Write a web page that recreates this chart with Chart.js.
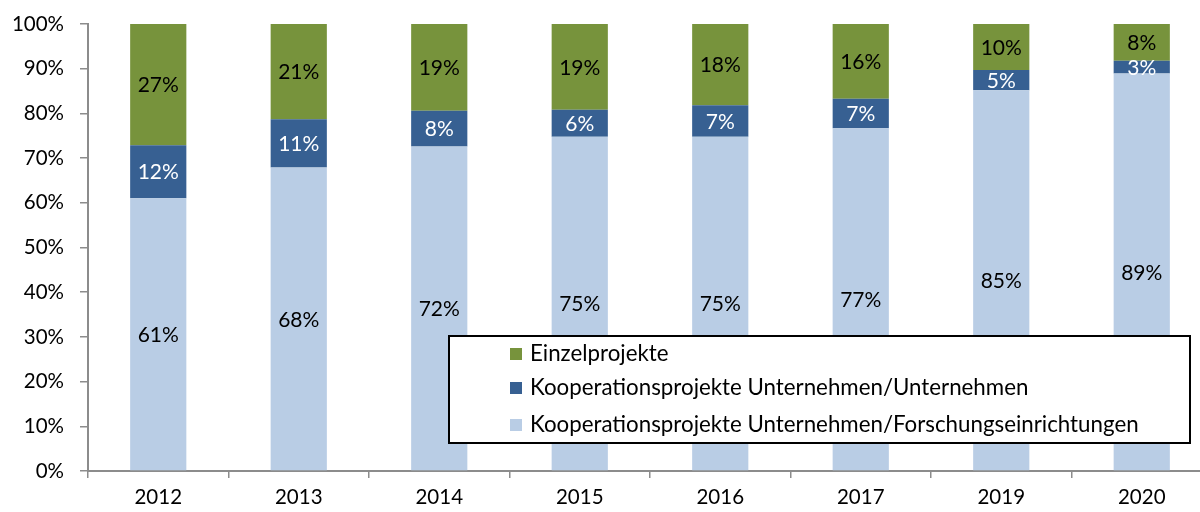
<!DOCTYPE html>
<html>
<head>
<meta charset="utf-8">
<script src="https://cdn.jsdelivr.net/npm/chart.js@4/dist/chart.umd.min.js"></script>
<style>
  html, body { margin: 0; padding: 0; background: #fff; overflow: hidden; }
  #wrap { position: relative; width: 1212px; height: 512px; }
</style>
</head>
<body>
<div id="wrap"><canvas id="c" width="1212" height="512"></canvas></div>
<script>
const categories = ['2012', '2013', '2014', '2015', '2016', '2017', '2019', '2020'];
const forschung = [61.0, 67.9, 72.6, 74.8, 74.8, 76.7, 85.2, 88.9];
const unternehmen = [11.9, 10.8, 8.0, 6.0, 7.0, 6.6, 4.5, 2.9];
const einzel = [27.1, 21.3, 19.4, 19.2, 18.2, 16.7, 10.3, 8.2];
const labelsForschung = ['61%', '68%', '72%', '75%', '75%', '77%', '85%', '89%'];
const labelsUnternehmen = ['12%', '11%', '8%', '6%', '7%', '7%', '5%', '3%'];
const labelsEinzel = ['27%', '21%', '19%', '19%', '18%', '16%', '10%', '8%'];
const yTicks = [0, 10, 20, 30, 40, 50, 60, 70, 80, 90, 100];

const FONT = 'Lato, "Open Sans", sans-serif';
const AXIS = '#8c8c8c';

const valueLabels = {
  id: 'valueLabels',
  afterDatasetsDraw(chart) {
    const ctx = chart.ctx;
    ctx.save();
    ctx.font = '21px ' + FONT;
    ctx.textAlign = 'center';
    ctx.textBaseline = 'middle';
    chart.data.datasets.forEach((ds, di) => {
      const meta = chart.getDatasetMeta(di);
      meta.data.forEach((bar, i) => {
        const top = Math.min(bar.y, bar.base), bot = Math.max(bar.y, bar.base);
        ctx.fillStyle = ds.labelColor;
        ctx.fillText(ds.valueLabels[i], bar.x, (top + bot) / 2 + 1);
      });
    });
    ctx.restore();
  }
};

const boxLegend = {
  id: 'boxLegend',
  afterDraw(chart) {
    const ctx = chart.ctx;
    ctx.save();
    const x0 = 449, y0 = 336, w = 741, h = 107;
    ctx.fillStyle = '#ffffff';
    ctx.fillRect(x0, y0, w, h);
    ctx.strokeStyle = '#000000';
    ctx.lineWidth = 2;
    ctx.strokeRect(x0, y0, w, h);
    ctx.font = '22.3px ' + FONT;
    ctx.textBaseline = 'middle';
    ctx.textAlign = 'left';
    const order = [2, 1, 0];
    const rows = [354, 388, 425];
    order.forEach((di, k) => {
      const ds = chart.data.datasets[di];
      ctx.fillStyle = ds.backgroundColor;
      ctx.fillRect(510, rows[k] - 6, 12, 12);
      ctx.fillStyle = '#000';
      ctx.fillText(ds.label, 530, rows[k]);
    });
    ctx.restore();
  }
};

new Chart(document.getElementById('c'), {
  type: 'bar',
  data: {
    labels: categories,
    datasets: [
      { label: 'Kooperationsprojekte Unternehmen/Forschungseinrichtungen', data: forschung, backgroundColor: '#B9CDE5', valueLabels: labelsForschung, labelColor: '#000' },
      { label: 'Kooperationsprojekte Unternehmen/Unternehmen', data: unternehmen, backgroundColor: '#376092', valueLabels: labelsUnternehmen, labelColor: '#fff' },
      { label: 'Einzelprojekte', data: einzel, backgroundColor: '#77933C', valueLabels: labelsEinzel, labelColor: '#000' }
    ]
  },
  options: {
    responsive: false,
    animation: false,
    devicePixelRatio: 1,
    layout: { padding: { top: 24, right: 0, bottom: 0, left: 0 } },
    datasets: { bar: { barPercentage: 0.4, categoryPercentage: 1.0, borderWidth: 0 } },
    plugins: { legend: { display: false }, tooltip: { enabled: false } },
    scales: {
      x: {
        stacked: true,
        offset: true,
        grid: { display: true, drawOnChartArea: false, drawTicks: true, tickLength: 7, color: AXIS, lineWidth: 1.5, offset: true },
        border: { display: true, color: AXIS, width: 2 },
        ticks: { color: '#000', font: { family: FONT, size: 20.5 }, padding: 7 },
        afterFit(s) { s.height = 41; s.paddingLeft = 0; s.paddingRight = 0; }
      },
      y: {
        stacked: true,
        min: 0, max: 100,
        afterBuildTicks(s) { s.ticks = yTicks.map(v => ({ value: v })); },
        grid: { display: true, drawOnChartArea: false, drawTicks: true, tickLength: 8, color: AXIS, lineWidth: 1.5 },
        border: { display: true, color: AXIS, width: 2 },
        ticks: { color: '#000', font: { family: FONT, size: 20.5 }, padding: 16, callback: v => v + '%' },
        afterFit(s) { s.width = 88; s.paddingTop = 0; s.paddingBottom = 0; }
      }
    }
  },
  plugins: [valueLabels, boxLegend]
});
</script>
</body>
</html>
